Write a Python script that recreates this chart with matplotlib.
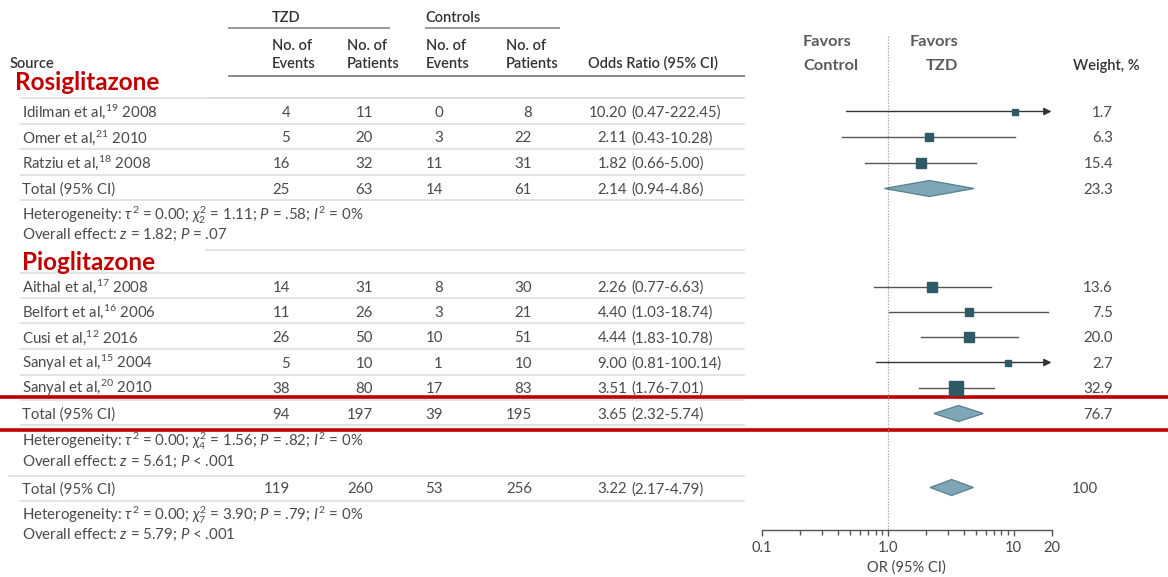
import matplotlib
matplotlib.use("Agg")
import matplotlib.pyplot as plt
from matplotlib.patches import Rectangle
from matplotlib.ticker import FixedLocator, FixedFormatter, NullFormatter

plt.rcParams['font.family'] = ['Lato', 'DejaVu Sans']
plt.rcParams['mathtext.fontset'] = 'custom'
plt.rcParams['mathtext.rm'] = 'Lato'
plt.rcParams['mathtext.it'] = 'Lato:italic'
plt.rcParams['mathtext.bf'] = 'Lato:bold'
plt.rcParams['mathtext.fallback'] = 'stixsans'

# ---- Rosiglitazone trials ----
rosi_authors = ["Idilman", "Omer", "Ratziu"]
rosi_refs = [19, 21, 18]
rosi_years = [2008, 2010, 2008]
rosi_tzd_events = [4, 5, 16]
rosi_tzd_patients = [11, 20, 32]
rosi_ctrl_events = [0, 3, 11]
rosi_ctrl_patients = [8, 22, 31]
rosi_or = [10.20, 2.11, 1.82]
rosi_lo = [0.47, 0.43, 0.66]
rosi_hi = [222.45, 10.28, 5.00]
rosi_weight = [1.7, 6.3, 15.4]

# ---- Pioglitazone trials ----
pio_authors = ["Aithal", "Belfort", "Cusi", "Sanyal", "Sanyal"]
pio_refs = [17, 16, 12, 15, 20]
pio_years = [2008, 2006, 2016, 2004, 2010]
pio_tzd_events = [14, 11, 26, 5, 38]
pio_tzd_patients = [31, 26, 50, 10, 80]
pio_ctrl_events = [8, 3, 10, 1, 17]
pio_ctrl_patients = [30, 21, 51, 10, 83]
pio_or = [2.26, 4.40, 4.44, 9.00, 3.51]
pio_lo = [0.77, 1.03, 1.83, 0.81, 1.76]
pio_hi = [6.63, 18.74, 10.78, 100.14, 7.01]
pio_weight = [13.6, 7.5, 20.0, 2.7, 32.9]

# ---- Pooled results: rosiglitazone, pioglitazone, all trials ----
pooled_tzd_events = [25, 94, 119]
pooled_tzd_patients = [63, 197, 260]
pooled_ctrl_events = [14, 39, 53]
pooled_ctrl_patients = [61, 195, 256]
pooled_or = [2.14, 3.65, 3.22]
pooled_lo = [0.94, 2.32, 2.17]
pooled_hi = [4.86, 5.74, 4.79]
pooled_weight = [23.3, 76.7, 100]
het_tau2 = [0.00, 0.00, 0.00]
het_chi2 = [1.11, 1.56, 3.90]
het_df = [2, 4, 7]
het_p = [" = .58", " = .82", " = .79"]
het_i2 = [0, 0, 0]
effect_z = [1.82, 5.61, 5.79]
effect_p = [" = .07", " < .001", " < .001"]

group_labels = ["Rosiglitazone", "Pioglitazone"]
axis_ticks = [0.1, 1, 10, 20]
axis_tick_labels = ["0.1", "1.0", "10", "20"]

W, H = 1168, 577
fig = plt.figure(figsize=(W / 100, H / 100), dpi=100)
fig.patch.set_facecolor("white")

ax = fig.add_axes([0, 0, 1, 1])
ax.set_xlim(0, W)
ax.set_ylim(H, 0)
ax.axis("off")

X_AX0, X_AX1 = 762, 1051.5
fx = fig.add_axes([X_AX0 / W, 0, (X_AX1 - X_AX0) / W, 1])
fx.set_xscale("log")
fx.set_xlim(0.1, 20)
fx.set_ylim(H, 0)
fx.patch.set_alpha(0)
for s in ["left", "right", "top"]:
    fx.spines[s].set_visible(False)
fx.yaxis.set_visible(False)
fx.spines["bottom"].set_position(("data", 529.5))
fx.spines["bottom"].set_color("#555555")
fx.spines["bottom"].set_linewidth(1.0)
fx.xaxis.set_major_locator(FixedLocator(axis_ticks))
fx.xaxis.set_major_formatter(FixedFormatter(axis_tick_labels))
fx.xaxis.set_minor_locator(FixedLocator([0.2, 0.3, 0.4, 0.5, 0.6, 0.7, 0.8, 0.9,
                                          2, 3, 4, 5, 6, 7, 8, 9]))
fx.xaxis.set_minor_formatter(NullFormatter())
fx.tick_params(which="major", length=4.5, width=1, color="#555555",
               labelsize=10.5, labelcolor="#444444", pad=4)
fx.tick_params(which="minor", length=3.3, width=1, color="#555555")
fx.set_xlabel("OR (95% CI)", fontsize=10.5, color="#444444", labelpad=4)

BODY = "#4a4a4a"
HEAD = "#333333"
GRID = "#dcdcdc"
RED = "#C00000"
SQ = "#2E5A66"
DIA_FACE = "#7FA6B6"
DIA_EDGE = "#56808F"


def txt(x, y, s, ha="left", size=10.8, color=BODY, weight="normal", z=3):
    ax.text(x, y, s, ha=ha, va="baseline", fontsize=size, color=color,
            fontweight=weight, zorder=z)


def hline(y, x0=20, x1=745, color=GRID, lw=1.1, z=2):
    ax.plot([x0, x1], [y, y], color=color, lw=lw, zorder=z, solid_capstyle="butt")


def weight_text(y, w):
    s = f"{w:.1f}" if w < 100 else f"{w:.0f}"
    txt(1113 if "." in s else 1098, y, s, ha="right")


def numbers(y, te, tp, ce, cp, orv, lo, hi, w):
    txt(290, y, str(te), ha="right")
    txt(373, y, str(tp), ha="right")
    txt(443, y, str(ce), ha="right")
    txt(532, y, str(cp), ha="right")
    txt(627, y, f"{orv:.2f}", ha="right")
    txt(631, y, f"({lo:.2f}-{hi:.2f})", ha="left")
    weight_text(y, w)


def study_mark(ym, orv, lo, hi, w):
    side = 3 + 1.75 * w ** 0.5
    if hi > 20:
        fx.annotate("", xy=(20, ym), xytext=(lo, ym),
                    arrowprops=dict(arrowstyle="-|>", color="#333333", lw=1.0,
                                    mutation_scale=11, shrinkA=0, shrinkB=0),
                    annotation_clip=False, zorder=4)
    else:
        fx.plot([lo, hi], [ym, ym], color="#555555", lw=1.0, zorder=4)
    fx.plot([orv], [ym], marker="s", ms=side * 0.72, color=SQ, mec=SQ, zorder=5)


def pooled_mark(ym, orv, lo, hi):
    fx.fill([lo, orv, hi, orv], [ym, ym - 8, ym, ym + 8], facecolor=DIA_FACE,
            edgecolor=DIA_EDGE, lw=0.9, zorder=5)


def het_lines(y1, y2, i):
    s1 = (rf"Heterogeneity: $\tau^{{\mathrm{{2}}}}$ = {het_tau2[i]:.2f}; "
          rf"$\chi^{{\mathrm{{2}}}}_{{\mathrm{{{het_df[i]}}}}}$ = {het_chi2[i]:.2f}; "
          rf"$P${het_p[i]}; $I^{{\mathrm{{2}}}}$ = {het_i2[i]}%")
    s2 = rf"Overall effect: $z$ = {effect_z[i]:.2f}; $P${effect_p[i]}"
    txt(22, y1, s1, size=10.8)
    txt(22, y2, s2, size=10.8)


# ---- Column headers ----
txt(272, 22, "TZD", size=10.5, color=HEAD, weight="semibold")
txt(425, 22, "Controls", size=10.5, color=HEAD, weight="semibold")
hline(28, 228, 390, color="#9a9a9a", lw=1.4)
hline(28, 425, 560, color="#9a9a9a", lw=1.4)
for x, top, bottom in [(272, "No. of", "Events"), (347, "No. of", "Patients"),
                       (426, "No. of", "Events"), (506, "No. of", "Patients")]:
    txt(x, 50, top, size=10.5, color=HEAD, weight="semibold")
    txt(x, 68, bottom, size=10.5, color=HEAD, weight="semibold")
txt(10, 68, "Source", size=10.5, color=HEAD, weight="semibold")
txt(588, 68, "Odds Ratio (95% CI)", size=10.5, color=HEAD, weight="semibold")
txt(1073, 70, "Weight, %", size=10.5, color=HEAD, weight="semibold")
hline(76, 228, 745, color="#8a8a8a", lw=1.4)

txt(803, 46.5, "Favors", size=11.8, color="#5c5c5c", weight="bold")
txt(803, 70.5, "Control", size=11.8, color="#5c5c5c", weight="bold")
txt(958, 46.5, "Favors", size=11.8, color="#5c5c5c", weight="bold", ha="right")
txt(958, 70.5, "TZD", size=11.8, color="#5c5c5c", weight="bold", ha="right")

# reference line at OR = 1
fx.plot([1, 1], [36, 529.5], color="#9a9a9a", lw=0.9, ls=(0, (1, 1.4)), zorder=1)

# ---- Row separators ----
for y in [98, 124, 149, 175, 200, 273, 298, 323, 349, 375, 400, 425, 501]:
    hline(y)
hline(250, 205, 745)
hline(476, 8, 745)

# ---- Rosiglitazone block ----
ax.text(15, 90, group_labels[0], ha="left", va="baseline", fontsize=17.5,
        color=RED, fontweight="bold", zorder=6)
ax.add_patch(Rectangle((12, 96.5), 196, 7.5, facecolor="white",
                       edgecolor="none", zorder=4))
hline(98, z=5)
rosi_base = [117, 142.5, 168]
for i, yb in enumerate(rosi_base):
    txt(22, yb, rf"{rosi_authors[i]} et al,$^{{\mathrm{{{rosi_refs[i]}}}}}$ {rosi_years[i]}")
    numbers(yb, rosi_tzd_events[i], rosi_tzd_patients[i], rosi_ctrl_events[i],
            rosi_ctrl_patients[i], rosi_or[i], rosi_lo[i], rosi_hi[i], rosi_weight[i])
    study_mark(yb - 5.5, rosi_or[i], rosi_lo[i], rosi_hi[i], rosi_weight[i])

txt(22, 194, "Total (95% CI)")
numbers(194, pooled_tzd_events[0], pooled_tzd_patients[0], pooled_ctrl_events[0],
        pooled_ctrl_patients[0], pooled_or[0], pooled_lo[0], pooled_hi[0], pooled_weight[0])
pooled_mark(188.5, pooled_or[0], pooled_lo[0], pooled_hi[0])
het_lines(220, 239, 0)

# ---- Pioglitazone block ----
ax.text(22, 270, group_labels[1], ha="left", va="baseline", fontsize=17.5,
        color=RED, fontweight="bold", zorder=6)
pio_base = [292, 317, 342.5, 368, 393]
for i, yb in enumerate(pio_base):
    txt(22, yb, rf"{pio_authors[i]} et al,$^{{\mathrm{{{pio_refs[i]}}}}}$ {pio_years[i]}")
    numbers(yb, pio_tzd_events[i], pio_tzd_patients[i], pio_ctrl_events[i],
            pio_ctrl_patients[i], pio_or[i], pio_lo[i], pio_hi[i], pio_weight[i])
    study_mark(yb - 5.5, pio_or[i], pio_lo[i], pio_hi[i], pio_weight[i])

txt(22, 419, "Total (95% CI)")
numbers(419, pooled_tzd_events[1], pooled_tzd_patients[1], pooled_ctrl_events[1],
        pooled_ctrl_patients[1], pooled_or[1], pooled_lo[1], pooled_hi[1], pooled_weight[1])
pooled_mark(413.5, pooled_or[1], pooled_lo[1], pooled_hi[1])
het_lines(446, 465.5, 1)

# ---- All trials ----
txt(22, 493.3, "Total (95% CI)")
numbers(493.3, pooled_tzd_events[2], pooled_tzd_patients[2], pooled_ctrl_events[2],
        pooled_ctrl_patients[2], pooled_or[2], pooled_lo[2], pooled_hi[2], pooled_weight[2])
pooled_mark(487.5, pooled_or[2], pooled_lo[2], pooled_hi[2])
het_lines(520, 539.3, 2)

# ---- Highlight of the pooled pioglitazone row ----
ax.plot([0, W], [396.5, 396.5], color=RED, lw=2.6, zorder=7, solid_capstyle="butt")
ax.plot([0, W], [429.5, 429.5], color=RED, lw=2.6, zorder=7, solid_capstyle="butt")

fig.savefig("out.png", dpi=100, facecolor="white")
